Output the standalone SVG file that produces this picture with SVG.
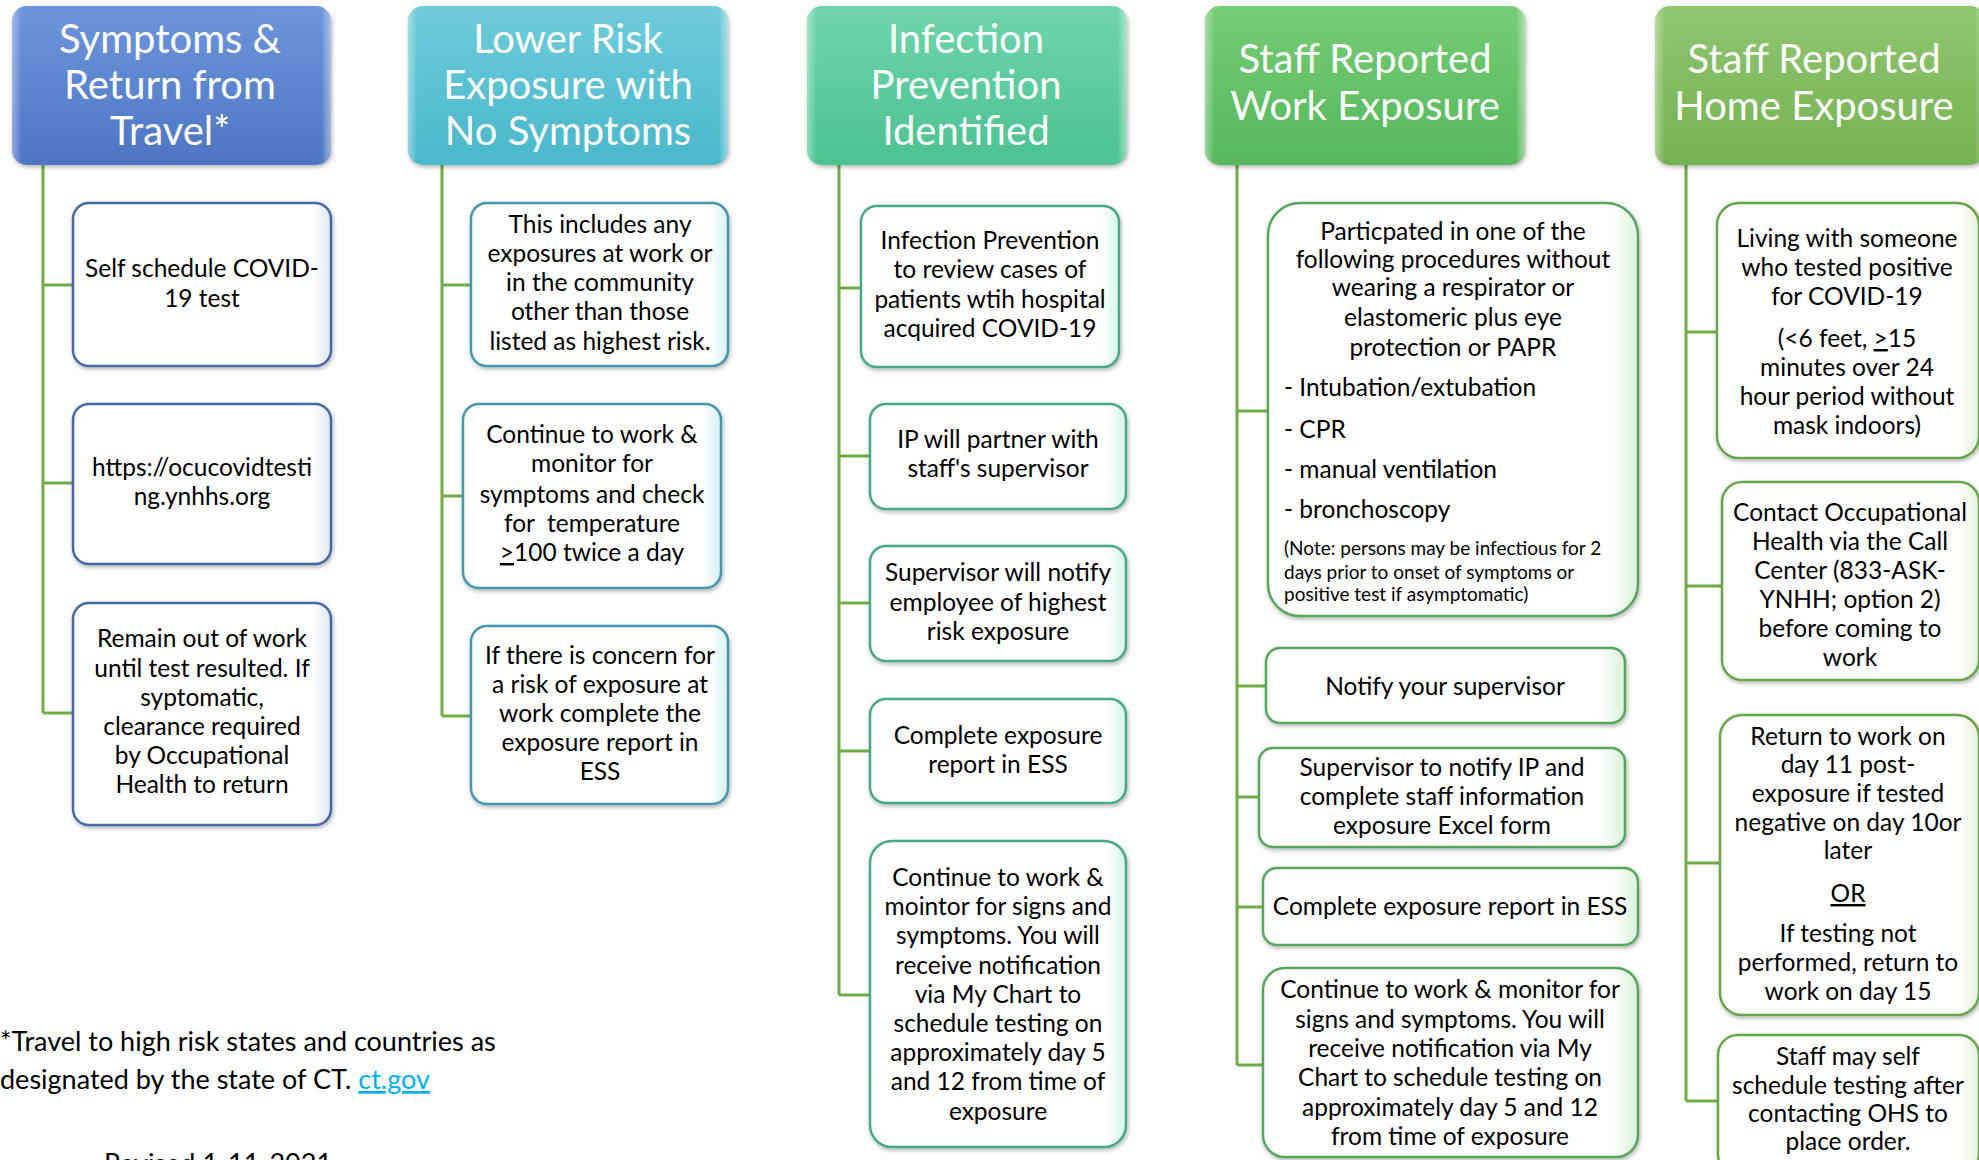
<svg xmlns="http://www.w3.org/2000/svg" width="1979" height="1160" viewBox="0 0 1979 1160">
<defs>
  <linearGradient id="gBlue" x1="0" y1="0" x2="0" y2="1"><stop offset="0" stop-color="#5d8ad8"/><stop offset="1" stop-color="#3a66bd"/></linearGradient>
  <linearGradient id="gTeal" x1="0" y1="0" x2="0" y2="1"><stop offset="0" stop-color="#5ec6d6"/><stop offset="1" stop-color="#35b0c6"/></linearGradient>
  <linearGradient id="gSea" x1="0" y1="0" x2="0" y2="1"><stop offset="0" stop-color="#5fd0a4"/><stop offset="1" stop-color="#38bb86"/></linearGradient>
  <linearGradient id="gGreen" x1="0" y1="0" x2="0" y2="1"><stop offset="0" stop-color="#66c766"/><stop offset="1" stop-color="#43b049"/></linearGradient>
  <linearGradient id="gLeaf" x1="0" y1="0" x2="0" y2="1"><stop offset="0" stop-color="#83c060"/><stop offset="1" stop-color="#65a93f"/></linearGradient>
  <linearGradient id="gBevel" x1="0" y1="0" x2="1" y2="0">
    <stop offset="0" stop-color="#ffffff" stop-opacity="0.45"/><stop offset="0.03" stop-color="#ffffff" stop-opacity="0.1"/>
    <stop offset="0.97" stop-color="#ffffff" stop-opacity="0.1"/><stop offset="1" stop-color="#ffffff" stop-opacity="0.5"/>
  </linearGradient>
  <linearGradient id="fBlue" x1="0" y1="0" x2="1" y2="0"><stop offset="0" stop-color="#ffffff"/><stop offset="0.93" stop-color="#ffffff"/><stop offset="1" stop-color="#dfe8f6"/></linearGradient>
  <linearGradient id="fTeal" x1="0" y1="0" x2="1" y2="0"><stop offset="0" stop-color="#ffffff"/><stop offset="0.93" stop-color="#ffffff"/><stop offset="1" stop-color="#d8f1f6"/></linearGradient>
  <linearGradient id="fSea" x1="0" y1="0" x2="1" y2="0"><stop offset="0" stop-color="#ffffff"/><stop offset="0.93" stop-color="#ffffff"/><stop offset="1" stop-color="#d6f4ea"/></linearGradient>
  <linearGradient id="fGreen" x1="0" y1="0" x2="1" y2="0"><stop offset="0" stop-color="#ffffff"/><stop offset="0.93" stop-color="#ffffff"/><stop offset="1" stop-color="#dcf2dc"/></linearGradient>
  <linearGradient id="fLeaf" x1="0" y1="0" x2="1" y2="0"><stop offset="0" stop-color="#ffffff"/><stop offset="0.93" stop-color="#ffffff"/><stop offset="1" stop-color="#e2f1d8"/></linearGradient>
  <filter id="sh" x="-10%" y="-10%" width="120%" height="120%"><feDropShadow dx="1" dy="2" stdDeviation="2" flood-color="#000" flood-opacity="0.3"/></filter>
</defs>
<style>
  text { font-family: Lato, "Liberation Sans", sans-serif; }
  .hd { fill: #ffffff; font-size: 40px; text-anchor: middle; }
  .bt { fill: #000000; font-size: 24.5px; text-anchor: middle; }
  .lt { fill: #000000; font-size: 24.5px; text-anchor: start; }
  .nt { fill: #000000; font-size: 19px; text-anchor: start; }
  .ft { fill: #000000; font-size: 27px; }
  .conn path { stroke: #70ad47; stroke-width: 3; fill: none; }
  .bx { stroke-width: 2.5; filter: url(#sh); }
  .c1 { fill: url(#fBlue); stroke: #4a69a6; }
  .c2 { fill: url(#fTeal); stroke: #4597ad; }
  .c3 { fill: url(#fSea); stroke: #47a88a; }
  .c4 { fill: url(#fGreen); stroke: #57a65c; }
  .c5 { fill: url(#fLeaf); stroke: #67a64b; }
  .bev { fill: url(#gBevel); }
</style>
<rect width="1979" height="1160" fill="#ffffff"/>

<g class="conn" id="connectors">
  <path d="M43 165 V713 M43 285 H73 M43 483 H73 M43 713 H73"/>
  <path d="M442 165 V716 M442 285 H471 M442 496 H463 M442 716 H471"/>
  <path d="M839 165 V995 M839 288 H861 M839 456 H870 M839 603 H870 M839 751 H870 M839 995 H870"/>
  <path d="M1237 165 V1065 M1237 411 H1268 M1237 686 H1266 M1237 797 H1259 M1237 907 H1263 M1237 1065 H1263"/>
  <path d="M1686 165 V1101 M1686 332 H1717 M1686 586 H1722 M1686 863 H1720 M1686 1101 H1718"/>
</g>

<!-- headers -->
<g id="h1"><rect x="12" y="6" width="319" height="159" rx="15" fill="url(#gBlue)" filter="url(#sh)"/><rect x="12" y="6" width="319" height="159" rx="15" class="bev"/>
  <text class="hd" x="170" y="53">Symptoms &amp;</text><text class="hd" x="170" y="99">Return from</text><text class="hd" x="170" y="145">Travel*</text></g>
<g id="h2"><rect x="408" y="6" width="320" height="159" rx="15" fill="url(#gTeal)" filter="url(#sh)"/><rect x="408" y="6" width="320" height="159" rx="15" class="bev"/>
  <text class="hd" x="568" y="53">Lower Risk</text><text class="hd" x="568" y="99">Exposure with</text><text class="hd" x="568" y="145">No Symptoms</text></g>
<g id="h3"><rect x="807" y="6" width="320" height="159" rx="15" fill="url(#gSea)" filter="url(#sh)"/><rect x="807" y="6" width="320" height="159" rx="15" class="bev"/>
  <text class="hd" x="966" y="53">Infection</text><text class="hd" x="966" y="99">Prevention</text><text class="hd" x="966" y="145">Identified</text></g>
<g id="h4"><rect x="1205" y="6" width="320" height="159" rx="15" fill="url(#gGreen)" filter="url(#sh)"/><rect x="1205" y="6" width="320" height="159" rx="15" class="bev"/>
  <text class="hd" x="1365" y="73">Staff Reported</text><text class="hd" x="1365" y="120">Work Exposure</text></g>
<g id="h5"><rect x="1655" y="6" width="330" height="159" rx="15" fill="url(#gLeaf)" filter="url(#sh)"/><rect x="1655" y="6" width="330" height="159" rx="15" class="bev"/>
  <text class="hd" x="1814" y="73">Staff Reported</text><text class="hd" x="1814" y="120">Home Exposure</text></g>

<!-- column 1 -->
<g id="a1"><rect class="bx c1" x="73" y="203" width="258" height="163" rx="16"/>
  <text class="bt" x="202" y="277">Self schedule COVID-</text><text class="bt" x="202" y="307">19 test</text></g>
<g id="a2"><rect class="bx c1" x="73" y="404" width="258" height="160" rx="16"/>
  <text class="bt" x="202" y="476">https://ocucovidtesti</text><text class="bt" x="202" y="505">ng.ynhhs.org</text></g>
<g id="a3"><rect class="bx c1" x="73" y="603" width="258" height="222" rx="16"/>
  <text class="bt" x="202" y="647">Remain out of work</text><text class="bt" x="202" y="677">until test resulted. If</text>
  <text class="bt" x="202" y="706">syptomatic,</text><text class="bt" x="202" y="735">clearance required</text>
  <text class="bt" x="202" y="764">by Occupational</text><text class="bt" x="202" y="793">Health to return</text></g>

<!-- column 2 -->
<g id="b1"><rect class="bx c2" x="471" y="203" width="257" height="163" rx="16"/>
  <text class="bt" x="600" y="233">This includes any</text><text class="bt" x="600" y="262">exposures at work or</text>
  <text class="bt" x="600" y="291">in the community</text><text class="bt" x="600" y="320">other than those</text>
  <text class="bt" x="600" y="350">listed as highest risk.</text></g>
<g id="b2"><rect class="bx c2" x="463" y="404" width="258" height="184" rx="16"/>
  <text class="bt" x="592" y="443">Continue to work &amp;</text><text class="bt" x="592" y="472">monitor for</text>
  <text class="bt" x="592" y="503">symptoms and check</text><text class="bt" x="592" y="532" xml:space="preserve">for  temperature</text>
  <text class="bt" x="592" y="561"><tspan text-decoration="underline">&gt;</tspan>100 twice a day</text></g>
<g id="b3"><rect class="bx c2" x="471" y="626" width="257" height="178" rx="16"/>
  <text class="bt" x="600" y="664">If there is concern for</text><text class="bt" x="600" y="693">a risk of exposure at</text>
  <text class="bt" x="600" y="722">work complete the</text><text class="bt" x="600" y="751">exposure report in</text>
  <text class="bt" x="600" y="780">ESS</text></g>

<!-- column 3 -->
<g id="c1"><rect class="bx c3" x="861" y="206" width="258" height="161" rx="16"/>
  <text class="bt" x="990" y="249">Infection Prevention</text><text class="bt" x="990" y="278">to review cases of</text>
  <text class="bt" x="990" y="308">patients wtih hospital</text><text class="bt" x="990" y="337">acquired COVID-19</text></g>
<g id="c2"><rect class="bx c3" x="870" y="404" width="256" height="105" rx="16"/>
  <text class="bt" x="998" y="448">IP will partner with</text><text class="bt" x="998" y="477">staff's supervisor</text></g>
<g id="c3"><rect class="bx c3" x="870" y="546" width="256" height="115" rx="16"/>
  <text class="bt" x="998" y="581">Supervisor will notify</text><text class="bt" x="998" y="611">employee of highest</text>
  <text class="bt" x="998" y="640">risk exposure</text></g>
<g id="c4"><rect class="bx c3" x="870" y="699" width="256" height="104" rx="16"/>
  <text class="bt" x="998" y="744">Complete exposure</text><text class="bt" x="998" y="773">report in ESS</text></g>
<g id="c5"><rect class="bx c3" x="870" y="841" width="256" height="306" rx="22"/>
  <text class="bt" x="998" y="886">Continue to work &amp;</text><text class="bt" x="998" y="915">mointor for signs and</text>
  <text class="bt" x="998" y="944">symptoms. You will</text><text class="bt" x="998" y="974">receive notification</text>
  <text class="bt" x="998" y="1003">via My Chart to</text><text class="bt" x="998" y="1032">schedule testing on</text>
  <text class="bt" x="998" y="1061">approximately day 5</text><text class="bt" x="998" y="1090">and 12 from time of</text>
  <text class="bt" x="998" y="1120">exposure</text></g>

<!-- column 4 -->
<g id="d1"><rect class="bx c4" x="1268" y="203" width="370" height="413" rx="32"/>
  <text class="bt" x="1453" y="240">Particpated in one of the</text><text class="bt" x="1453" y="268">following procedures without</text>
  <text class="bt" x="1453" y="296">wearing a respirator or</text><text class="bt" x="1453" y="326">elastomeric plus eye</text>
  <text class="bt" x="1453" y="356">protection or PAPR</text>
  <text class="lt" x="1284" y="396">- Intubation/extubation</text><text class="lt" x="1284" y="438">- CPR</text>
  <text class="lt" x="1284" y="478">- manual ventilation</text><text class="lt" x="1284" y="518">- bronchoscopy</text>
  <text class="nt" x="1284" y="555">(Note: persons may be infectious for 2</text><text class="nt" x="1284" y="579">days prior to onset of symptoms or</text>
  <text class="nt" x="1284" y="601">positive test if asymptomatic)</text></g>
<g id="d2"><rect class="bx c4" x="1266" y="648" width="359" height="75" rx="14"/>
  <text class="bt" x="1445" y="695">Notify your supervisor</text></g>
<g id="d3"><rect class="bx c4" x="1259" y="748" width="366" height="99" rx="14"/>
  <text class="bt" x="1442" y="776">Supervisor to notify IP and</text><text class="bt" x="1442" y="805">complete staff information</text>
  <text class="bt" x="1442" y="834">exposure Excel form</text></g>
<g id="d4"><rect class="bx c4" x="1263" y="868" width="375" height="77" rx="14"/>
  <text class="bt" x="1450" y="915">Complete exposure report in ESS</text></g>
<g id="d5"><rect class="bx c4" x="1263" y="968" width="375" height="189" rx="22"/>
  <text class="bt" x="1450" y="998">Continue to work &amp; monitor for</text><text class="bt" x="1450" y="1028">signs and symptoms. You will</text>
  <text class="bt" x="1450" y="1057">receive notification via My</text><text class="bt" x="1450" y="1086">Chart to schedule testing on</text>
  <text class="bt" x="1450" y="1116">approximately day 5 and 12</text><text class="bt" x="1450" y="1145">from time of exposure</text></g>

<!-- column 5 -->
<g id="e1"><rect class="bx c5" x="1717" y="203" width="262" height="255" rx="22"/>
  <text class="bt" x="1847" y="247">Living with someone</text><text class="bt" x="1847" y="276">who tested positive</text>
  <text class="bt" x="1847" y="305">for COVID-19</text>
  <text class="bt" x="1847" y="347">(&lt;6 feet, <tspan text-decoration="underline">&gt;</tspan>15</text><text class="bt" x="1847" y="376">minutes over 24</text>
  <text class="bt" x="1847" y="405">hour period without</text><text class="bt" x="1847" y="434">mask indoors)</text></g>
<g id="e2"><rect class="bx c5" x="1722" y="482" width="257" height="198" rx="20"/>
  <text class="bt" x="1850" y="521">Contact Occupational</text><text class="bt" x="1850" y="550">Health via the Call</text>
  <text class="bt" x="1850" y="579">Center (833-ASK-</text><text class="bt" x="1850" y="608">YNHH; option 2)</text>
  <text class="bt" x="1850" y="637">before coming to</text><text class="bt" x="1850" y="666">work</text></g>
<g id="e3"><rect class="bx c5" x="1720" y="715" width="259" height="300" rx="22"/>
  <text class="bt" x="1848" y="745">Return to work on</text><text class="bt" x="1848" y="773">day 11 post-</text>
  <text class="bt" x="1848" y="802">exposure if tested</text><text class="bt" x="1848" y="831">negative on day 10or</text>
  <text class="bt" x="1848" y="859">later</text>
  <text class="bt" x="1848" y="902" text-decoration="underline">OR</text>
  <text class="bt" x="1848" y="942">If testing not</text><text class="bt" x="1848" y="971">performed, return to</text>
  <text class="bt" x="1848" y="1000">work on day 15</text></g>
<g id="e4"><rect class="bx c5" x="1718" y="1035" width="261" height="140" rx="20"/>
  <text class="bt" x="1848" y="1065">Staff may self</text><text class="bt" x="1848" y="1094">schedule testing after</text>
  <text class="bt" x="1848" y="1122">contacting OHS to</text><text class="bt" x="1848" y="1150">place order.</text></g>

<!-- footnote -->
<g id="footnote">
  <text class="ft" x="0" y="1051">*Travel to high risk states and countries as</text>
  <text class="ft" x="0" y="1089">designated by the state of CT. <tspan fill="#00b0f0" text-decoration="underline">ct.gov</tspan></text>
  <text class="ft" x="104" y="1173">Revised 1-11-2021</text>
</g>
</svg>
